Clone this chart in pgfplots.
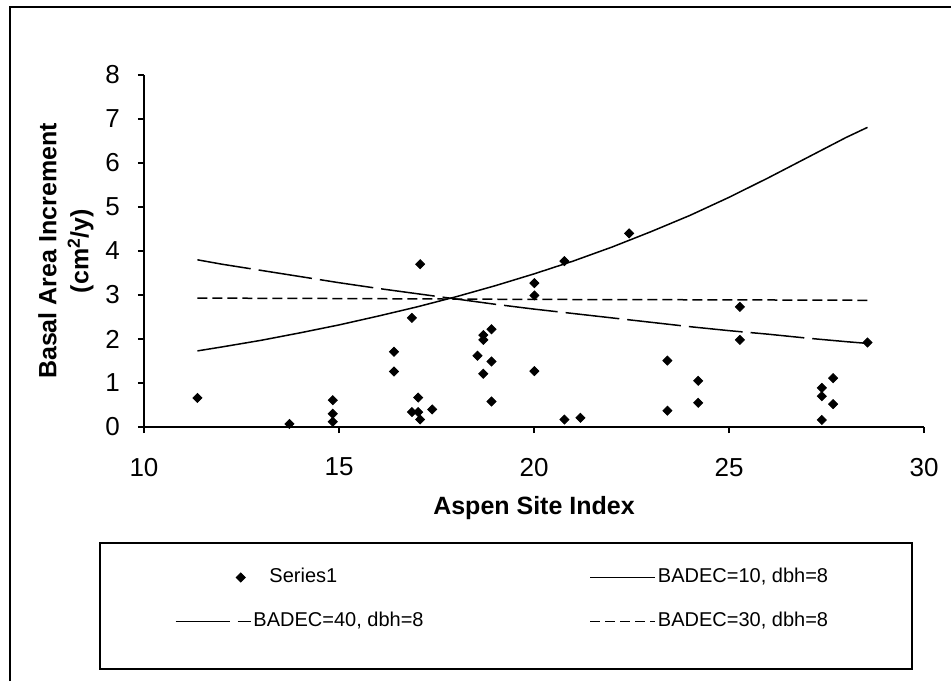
\documentclass[border=0pt]{standalone}
\usepackage{fontspec}
\setmainfont{Liberation Sans}
\usepackage{pgfplots}
\pgfplotsset{compat=1.18}

\pgfplotsset{
  legmark/.style={legend image code/.code={\path (0pt,0pt) (37.5pt,0pt); \draw[mark repeat=2,mark phase=2,##1] plot coordinates {(0pt,0pt) (32.5pt,0pt) (37.5pt,0pt)};}},
  legshort/.style={legend image code/.code={\draw[##1] (0pt,0pt) -- (32.5pt,0pt);}},
  leglong/.style={legend image code/.code={\draw[##1] (0pt,0pt) -- (37.5pt,0pt);}},
}

\pgfplotstableread{
x y
11.37 0.66
13.73 0.07
14.84 0.61
14.84 0.30
14.84 0.12
16.41 1.71
16.41 1.26
16.87 2.48
17.08 3.70
17.03 0.67
16.87 0.34
17.03 0.34
17.08 0.17
17.39 0.40
18.55 1.62
18.70 2.09
18.70 1.98
18.70 1.21
18.91 2.22
18.91 1.49
18.91 0.58
20.01 3.27
20.01 2.99
20.01 1.27
20.78 3.77
20.78 0.17
21.19 0.21
22.44 4.40
23.42 1.51
23.42 0.37
24.21 1.05
24.21 0.55
25.28 2.73
25.28 1.98
27.38 0.89
27.38 0.70
27.38 0.16
27.67 1.11
27.67 0.52
28.55 1.92
}\seriesone

\pgfplotstableread{
x y
11.37 1.73
12 1.82
13 1.97
14 2.14
15 2.32
16 2.52
17 2.73
18 2.96
19 3.21
20 3.48
21 3.77
22 4.09
23 4.44
24 4.81
25 5.22
26 5.66
27 6.12
28 6.58
28.55 6.81
}\badecten

\pgfplotstableread{
x y
11.37 3.80
12 3.70
13 3.56
14 3.42
15 3.28
16 3.15
17 3.03
18 2.91
19 2.79
20 2.68
21 2.58
22 2.48
23 2.38
24 2.28
25 2.19
26 2.11
27 2.02
28 1.94
28.55 1.90
}\badecforty

\pgfplotstableread{
x y
11.37 2.93
15 2.92
20 2.90
25 2.89
28.55 2.88
}\badecthirty

\begin{document}
\begin{tikzpicture}
\path[use as bounding box] (0pt,0pt) rectangle (475.5pt,340.5pt);
\draw[line width=0.8pt] (5pt,0pt) -- (5pt,337pt) -- (475.5pt,337pt);
\draw[line width=0.7pt] (50pt,6pt) rectangle (456pt,69pt);
\begin{axis}[
  at={(72pt,127pt)}, anchor=south west,
  scale only axis, width=390pt, height=176pt,
  xmin=10, xmax=30, ymin=0, ymax=8,
  xtick={10,15,20,25,30}, ytick={0,1,2,3,4,5,6,7,8},
  axis x line=bottom, axis y line=left,
  axis line style={-, line width=0.8pt},
  tick align=outside, major tick length=3pt,
  tick style={black, line width=0.6pt},
  /pgf/number format/assume math mode=true,
  ticklabel style={font=\fontsize{13}{15}\selectfont},
  xticklabel style={yshift=-9pt},
  yticklabel style={xshift=-5.5pt},
  xlabel={Aspen Site Index},
  ylabel={Basal Area Increment\\(cm\textsuperscript{2}/y)},
  xlabel style={font=\bfseries\fontsize{12.5}{15}\selectfont, at={(axis description cs:0.5,-0.23)}, anchor=center},
  ylabel style={font=\bfseries\fontsize{12.5}{16}\selectfont, align=center, at={(axis description cs:-0.100,0.5)}, anchor=center},
  legend columns=2,
  legend cell align=left,
  legend style={draw=none, fill=none, at={(axis description cs:0.0397,-0.4900)}, anchor=west,
    inner sep=0pt, outer sep=0pt, row sep=13pt,
    font=\fontsize{10}{12}\selectfont,
    nodes={inner sep=0pt, text height=7pt, text depth=2pt},
    /tikz/every even column/.append style={column sep=0pt}},
]
\addplot[only marks, mark=square*, mark size=1.6pt, black, mark options={rotate=45}, legmark]
  table[x=x,y=y] {\seriesone};
\addlegendentry{\makebox[169pt][l]{\hspace*{9pt}Series1}}
\addplot[black, line width=0.75pt, no marks, legshort]
  table[x=x,y=y] {\badecten};
\addlegendentry{\hspace*{1pt}BADEC=10, dbh=8}
\addplot[black, line width=0.75pt, no marks, dash pattern=on 27pt off 4pt, leglong]
  table[x=x,y=y] {\badecforty};
\addlegendentry{\makebox[169pt][l]{\hspace*{1pt}BADEC=40, dbh=8}}
\addplot[black, line width=0.75pt, no marks, dash pattern=on 5pt off 2.5pt, legshort]
  table[x=x,y=y] {\badecthirty};
\addlegendentry{\hspace*{1pt}BADEC=30, dbh=8}
\end{axis}
\end{tikzpicture}
\end{document}
